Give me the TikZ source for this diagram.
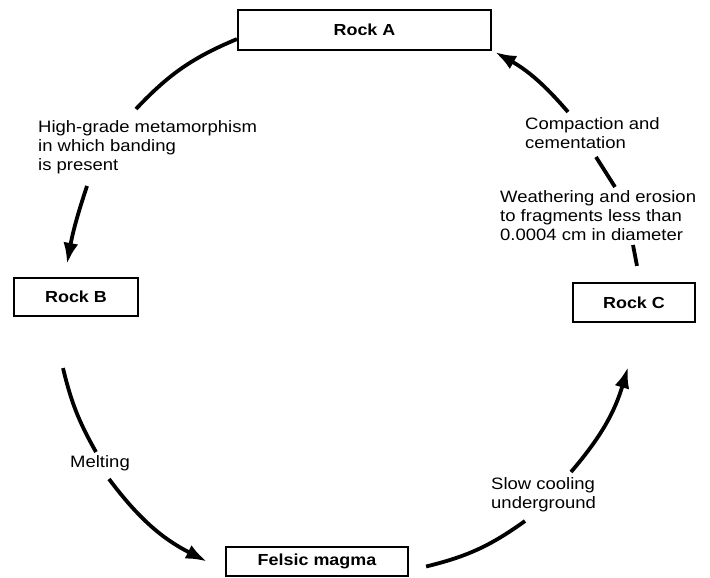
\documentclass[tikz,border=0pt]{standalone}
\usepackage{fontspec}
\setmainfont{Liberation Sans}[FakeStretch=1.12]
\usetikzlibrary{arrows.meta}
\begin{document}
\begin{tikzpicture}[x=1pt,y=1pt,
  rock/.style={draw,line width=2.2pt,inner sep=0pt,font=\fontsize{16}{19}\selectfont\bfseries},
  lbl/.style={inner sep=0pt,align=left,anchor=north west,font=\fontsize{16.5}{19}\selectfont},
  flow/.style={line width=3.8pt},
  arr/.style={flow,-{Latex[length=21pt,width=15pt]}}]
\useasboundingbox (0,0) rectangle (710,578);
\node[rock,minimum width=253pt,minimum height=40pt] (rockA) at (364.5,548) {Rock A};
\node[rock,minimum width=124pt,minimum height=38pt] (rockB) at (76,281) {Rock B};
\node[rock,minimum width=122pt,minimum height=39pt] (rockC) at (634,275.5) {Rock C};
\node[rock,minimum width=182pt,minimum height=29pt] (magma) at (317,16.5) {Felsic magma};
\node[lbl] (metam) at (38,458) {High-grade metamorphism\\in which banding\\is present};
\node[lbl] (compact) at (525,461) {Compaction and\\cementation};
\node[lbl] (weather) at (500,388) {Weathering and erosion\\to fragments less than\\0.0004 cm in diameter};
\node[lbl,anchor=center] (melt) at (100,115) {Melting};
\node[lbl] (cool) at (491,101) {Slow cooling\\underground};
\coordinate (metamIn) at (136,469);
\coordinate (metamOut) at (87,392);
\coordinate (meltIn) at (96,126);
\coordinate (meltOut) at (109,99);
\coordinate (coolIn) at (525,57);
\coordinate (coolOut) at (571,106);
\coordinate (weatherIn) at (633,333);
\coordinate (weatherOut) at (615,391);
\coordinate (compactIn) at (596,421);
\coordinate (compactOut) at (568,466);
\draw[flow] ([yshift=12pt]rockA.south west) to[bend right=12] (metamIn);
\draw[arr] (metamOut) to[bend right=4] ([xshift=-9pt,yshift=13pt]rockB.north);
\draw[flow] ([xshift=-13pt,yshift=-51pt]rockB.south) to[bend right=8] (meltIn);
\draw[arr] (meltOut) to[bend right=13] ([xshift=-18pt]magma.west);
\draw[flow] ([xshift=17pt,yshift=-5pt]magma.east) to[bend right=11] (coolIn);
\draw[arr] (coolOut) to[bend right=12] ([xshift=-6pt,yshift=-44pt]rockC.south);
\draw[flow] ([xshift=3pt,yshift=16pt]rockC.north) -- (weatherIn);
\draw[flow] (weatherOut) -- (compactIn);
\draw[arr] (compactOut) to[bend right=10] ([xshift=3pt,yshift=-1pt]rockA.south east);
\end{tikzpicture}
\end{document}
